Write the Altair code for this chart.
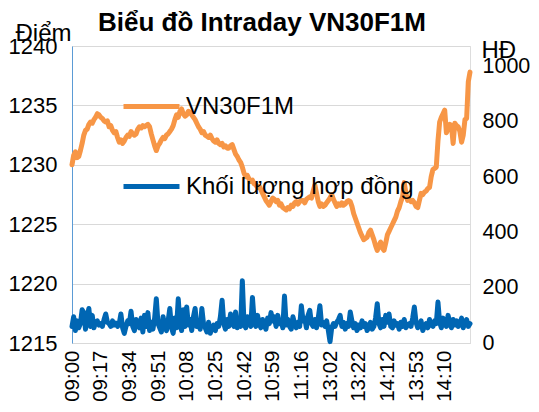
import altair as alt
import pandas as pd

# ---- data ----
tick_labels = ["09:00", "09:17", "09:34", "09:51", "10:08", "10:25", "10:42",
               "10:59", "11:16", "13:02", "13:22", "14:12", "13:53", "14:10"]
label_step = 17

price = [
    1230.0, 1230.8, 1231.1, 1230.6, 1230.7, 1231.2, 1231.8, 1232.5, 1232.9, 1233.0,
    1233.4, 1233.6, 1233.5, 1233.8, 1234.0, 1234.3, 1234.2, 1234.0, 1233.9, 1233.7,
    1233.6, 1233.7, 1233.2, 1233.3, 1232.9, 1232.7, 1232.8, 1232.3, 1231.9, 1232.1,
    1231.8, 1232.0, 1232.3, 1232.5, 1232.4, 1232.8, 1232.6, 1232.5, 1232.6, 1233.0,
    1233.2, 1233.1, 1233.3, 1233.2, 1233.3, 1233.4, 1233.2, 1232.6, 1232.1, 1231.6,
    1231.2, 1231.6, 1231.8, 1232.1, 1232.3, 1232.2, 1232.5, 1232.6, 1232.8, 1233.0,
    1233.3, 1233.8, 1234.2, 1234.0, 1234.5, 1234.7, 1234.3, 1234.1, 1234.2, 1234.5,
    1234.4, 1234.2, 1234.0, 1233.8, 1233.5, 1233.2, 1233.0, 1232.7, 1232.8, 1232.5,
    1232.4, 1232.3, 1232.5, 1232.2, 1232.0, 1231.9, 1232.1, 1231.8, 1231.7, 1231.8,
    1231.5, 1231.6, 1231.4, 1231.4, 1231.6, 1231.7, 1231.3, 1230.9, 1230.7, 1230.4,
    1230.2, 1229.8, 1229.3, 1229.0, 1229.1, 1228.8, 1228.6, 1228.7, 1228.4, 1228.3,
    1228.1, 1228.2, 1227.9, 1227.6, 1227.3, 1227.0, 1226.8, 1226.6, 1226.9, 1227.2,
    1227.1, 1226.9, 1227.0, 1226.6, 1226.7, 1226.4, 1226.3, 1226.2, 1226.4, 1226.3,
    1226.6, 1226.5, 1226.8, 1226.9, 1226.7, 1226.9, 1227.0, 1227.0, 1226.8, 1227.1,
    1227.2, 1227.3, 1227.2, 1227.8, 1228.3, 1227.6, 1226.9, 1226.5, 1226.7, 1226.5,
    1226.6, 1226.8, 1227.0, 1227.2, 1227.5, 1227.1, 1226.8, 1226.5, 1226.7, 1226.6,
    1226.8, 1226.6, 1226.7, 1226.9, 1227.0, 1226.9, 1226.5, 1225.9, 1225.5, 1225.1,
    1224.7, 1224.3, 1224.0, 1223.7, 1223.8, 1223.9, 1224.3, 1224.5, 1224.1, 1223.7,
    1223.2, 1222.8, 1223.2, 1223.5, 1223.0, 1222.8, 1223.4, 1224.1, 1224.4, 1224.7,
    1225.0, 1225.3, 1225.6, 1226.1, 1226.4, 1226.9, 1227.3, 1228.5, 1227.6, 1227.0,
    1227.1, 1226.9, 1227.0, 1226.8, 1226.5, 1226.4, 1227.0, 1227.6, 1227.5, 1227.7,
    1227.8, 1228.0, 1228.1, 1229.0, 1229.6, 1229.7, 1229.8, 1232.0, 1233.6, 1234.0,
    1234.3, 1234.6, 1232.7, 1233.0, 1233.4, 1233.3, 1231.8, 1233.5, 1233.3, 1233.2,
    1232.8, 1231.9, 1232.5, 1233.8, 1233.9, 1237.0, 1237.8,
]

volume = [
    60, 95, 45, 80, 55, 70, 120, 110, 50, 95,
    125, 60, 100, 55, 75, 80, 65, 70, 60, 85,
    105, 75, 70, 60, 80, 65, 72, 60, 70, 105,
    55, 35, 60, 80, 70, 115, 60, 45, 85, 70,
    55, 90, 40, 100, 60, 110, 45, 75, 50, 90,
    160, 70, 55, 40, 95, 60, 45, 80, 125, 55,
    35, 90, 55, 160, 70, 45, 120, 60, 130, 65,
    85, 45, 95, 125, 60, 80, 50, 125, 70, 55,
    40, 75, 35, 55, 65, 45, 70, 60, 95, 155,
    70, 50, 85, 60, 105, 75, 60, 112, 55, 80,
    60, 225, 70, 55, 95, 75, 60, 165, 80, 60,
    100, 70, 55, 85, 65, 50, 90, 70, 110, 80,
    95, 60, 100, 70, 80, 55, 170, 65, 85, 60,
    50, 95, 70, 55, 75, 60, 135, 80, 90, 55,
    100, 118, 70, 60, 85, 55, 90, 135, 65, 75,
    60, 80, 45, 5, 55, 70, 60, 75, 85, 100,
    60, 75, 50, 70, 60, 112, 80, 55, 70, 45,
    65, 55, 80, 60, 70, 45, 55, 75, 50, 60,
    90, 142, 70, 55, 85, 60, 100, 75, 105, 60,
    55, 80, 65, 70, 50, 75, 60, 85, 55, 65,
    70, 60, 90, 130, 75, 55, 65, 80, 45, 60,
    70, 55, 85, 65, 60, 80, 70, 148, 75, 55,
    90, 70, 60, 100, 75, 55, 85, 65, 80, 60,
    70, 90, 55, 75, 85, 60, 70,
]

series_names = ["VN30F1M", "Khối lượng hợp đồng"]
series_colors = ["#F79646", "#0066B3"]
price_ticks = [1215, 1220, 1225, 1230, 1235, 1240]
volume_ticks = [0, 200, 400, 600, 800, 1000]

df = pd.DataFrame({"i": list(range(len(price))), "price": price, "volume": volume})

FONT = "Liberation Sans"
label_js = "[" + ",".join("'" + t + "'" for t in tick_labels) + "]"

x_enc = alt.X(
    "i:Q",
    scale=alt.Scale(domain=[0, len(price) - 1], nice=False, zero=False),
    axis=alt.Axis(
        values=[k * label_step for k in range(len(tick_labels))],
        labelExpr=label_js + "[round(datum.value/" + str(label_step) + ")]",
        labelAngle=270, ticks=False, grid=False, domain=True,
        domainColor="#d9d9d9", labelFontSize=20.5, labelPadding=7,
        labelFont=FONT, labelColor="black", title=None, labelOverlap=False,
    ),
)

color_enc = alt.Color(
    "series:N",
    scale=alt.Scale(domain=series_names, range=series_colors),
    legend=alt.Legend(
        orient="none", legendX=49, legendY=30, title=None, symbolType="stroke",
        symbolSize=3136, symbolStrokeWidth=5, labelFontSize=24, labelFont=FONT,
        labelColor="black", rowPadding=37, labelOffset=4, labelLimit=400,
    ),
)

price_line = alt.Chart(df).transform_calculate(series="'" + series_names[0] + "'").mark_line(
    strokeWidth=5, strokeJoin="round", strokeCap="round"
).encode(
    x=x_enc,
    y=alt.Y(
        "price:Q",
        scale=alt.Scale(domain=[1215, 1240], nice=False, zero=False),
        axis=alt.Axis(
            values=price_ticks, format="d", title="Điểm", titleAngle=0,
            titleX=-57, titleY=-6, titleAlign="left", titleBaseline="alphabetic",
            titleFontSize=24, titleFontWeight="normal", titleFont=FONT,
            titleColor="black", labelFontSize=22, labelFont=FONT,
            labelColor="black", ticks=False, domainColor="#5B9BD5",
            gridColor="#d9d9d9", labelPadding=15,
        ),
    ),
    color=color_enc,
)

volume_line = alt.Chart(df).transform_calculate(series="'" + series_names[1] + "'").mark_line(
    strokeWidth=5, strokeJoin="round", strokeCap="round"
).encode(
    x=x_enc,
    y=alt.Y(
        "volume:Q",
        scale=alt.Scale(domain=[0, 1075], nice=False, zero=True),
        axis=alt.Axis(
            orient="right", values=volume_ticks, format="d", title="HĐ",
            titleAngle=0, titleX=11, titleY=11, titleAlign="left",
            titleBaseline="alphabetic", titleFontSize=24, titleFontWeight="normal",
            titleFont=FONT, titleColor="black", labelFontSize=21.5, labelFont=FONT,
            labelColor="black", ticks=False, domain=False, grid=False,
            labelPadding=12,
        ),
    ),
    color=color_enc,
)

chart = alt.layer(price_line, volume_line).resolve_scale(y="independent").properties(
    width=398,
    height=297,
    padding={"left": 64, "top": 38, "right": 61, "bottom": 59},
    autosize=alt.AutoSizeParams(type="none"),
    title=alt.Title("Biểu đồ Intraday VN30F1M", fontSize=26, fontWeight="bold",
                    font=FONT, color="black", offset=-15, anchor="middle", dx=-9),
).configure_view(stroke=None).configure(background="white")

chart.save("out.html", embed_options={"renderer": "svg", "actions": False})
